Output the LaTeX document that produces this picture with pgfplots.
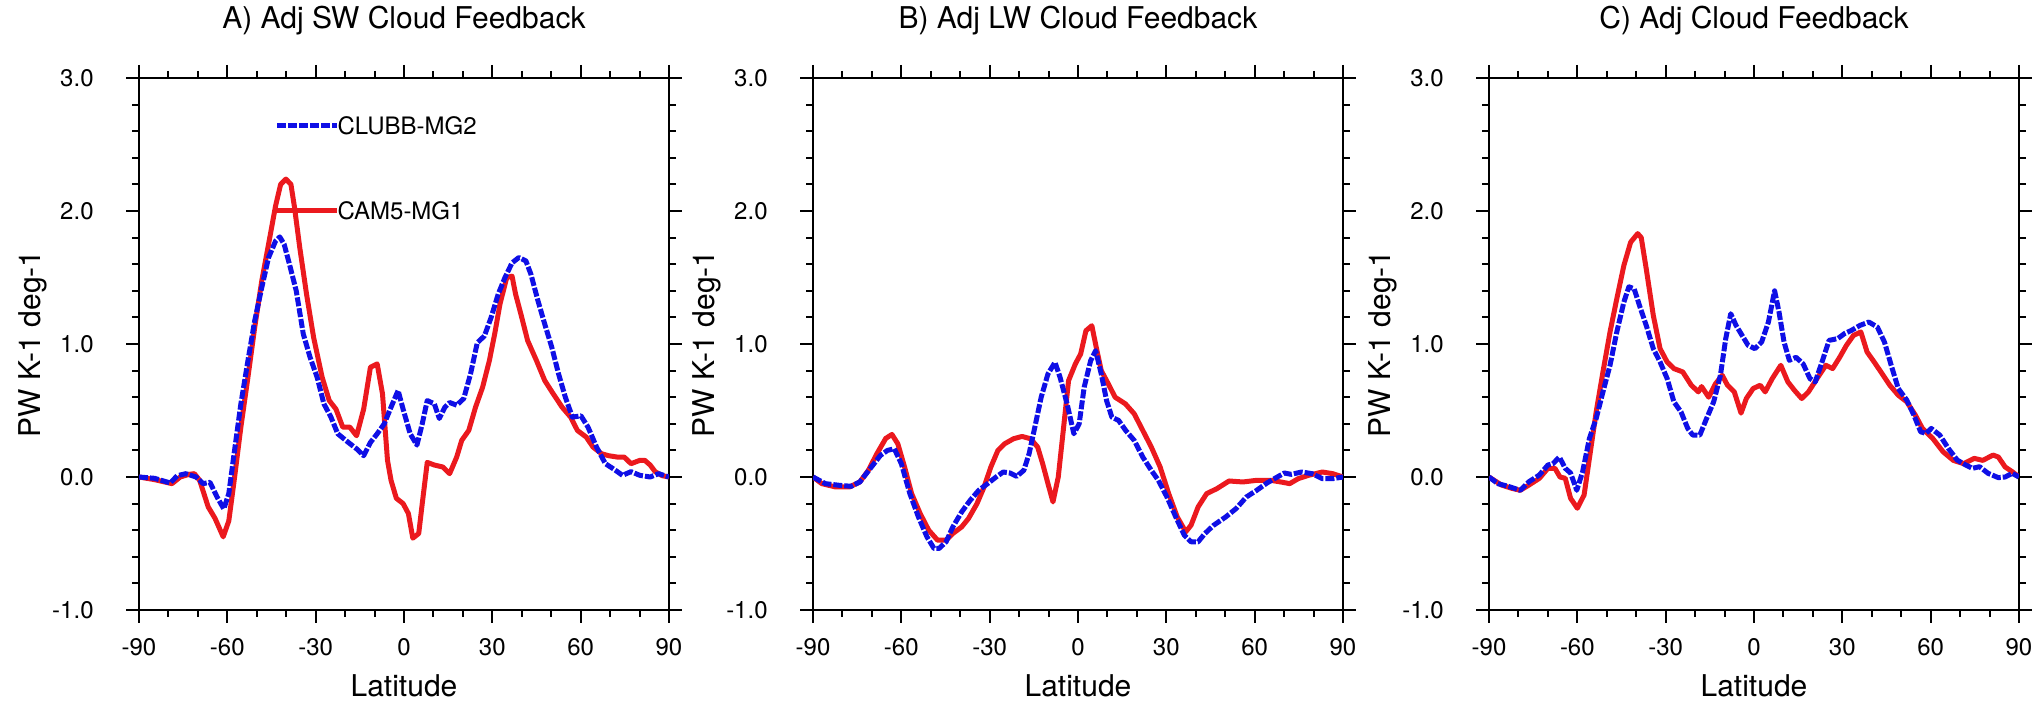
\documentclass[border=0pt]{standalone}
\usepackage{fontspec}
\setmainfont{TeX Gyre Heros}
\usepackage{pgfplots}
\pgfplotsset{compat=1.18}
\definecolor{ncred}{RGB}{235,25,30}
\definecolor{ncblue}{RGB}{15,15,230}
\pgfplotsset{
  panel/.style={
    width=265pt, height=266pt, scale only axis,
    xmin=-90, xmax=90, ymin=-1, ymax=3,
    xtick={-90,-60,-30,0,30,60,90},
    xticklabels={-90,-60,-30,0,30,60,90},
    ytick={-1,0,1,2,3},
    yticklabels={-1.0,0.0,1.0,2.0,3.0},
    minor x tick num=2, minor y tick num=4,
    tick align=outside,
    major tick length=6.5pt, minor tick length=3.5pt,
    every tick/.style={black, line width=1pt},
    axis line style={line width=1.3pt},
    tick label style={font=\fontsize{12}{14}\selectfont},
    xticklabel style={anchor=base, yshift=-16.5pt, inner sep=0pt},
    yticklabel style={anchor=east, xshift=-16pt, inner sep=0pt},
    xlabel={Latitude}, ylabel={PW K-1 deg-1},
    label style={font=\fontsize{15}{18}\selectfont},
    xlabel style={at={(axis description cs:0.5,-0.1617)}, anchor=base, inner sep=0pt},
    ylabel style={at={(axis description cs:-0.185,0.5)}, anchor=base, inner sep=0pt},
    title style={at={(axis description cs:0.5,1.0714)}, anchor=base, inner sep=0pt, font=\fontsize{15}{18}\selectfont},
  },
  redl/.style={color=ncred, line width=2.5pt, no markers, line join=round},
  bluel/.style={color=ncblue, line width=2.5pt, no markers, line join=round, dash pattern=on 4.5pt off 1pt},
}
\begin{document}
\begin{tikzpicture}
\useasboundingbox (0,0) rectangle (1018pt,352.5pt);
% ---------- Panel A ----------
\begin{axis}[panel, at={(69.5pt,47.5pt)}, anchor=south west, title={A) Adj SW Cloud Feedback}]
\addplot[redl] coordinates {(-90,0) (-84.7,-0.02) (-78.8,-0.05) (-76,0.0) (-73,0.02) (-71.2,0.025) (-69.4,-0.025) (-66.5,-0.225) (-64.2,-0.31) (-61.4,-0.45) (-59.5,-0.33) (-57.7,-0.03) (-55.4,0.375) (-53,0.75) (-50.7,1.125) (-48.3,1.475) (-46,1.75) (-43.6,2.04) (-41.9,2.2) (-40.1,2.24) (-38.4,2.2) (-37.2,2.03) (-35.4,1.725) (-33.1,1.375) (-30.7,1.05) (-27.8,0.75) (-25.4,0.575) (-23.1,0.51) (-20.8,0.375) (-18.4,0.375) (-16.1,0.31) (-13.7,0.51) (-11.4,0.825) (-9.1,0.85) (-7.3,0.625) (-5.6,0.125) (-4.4,-0.025) (-2.6,-0.16) (-0.3,-0.2) (1.5,-0.275) (3.0,-0.46) (5.0,-0.425) (6.2,-0.2) (7.9,0.11) (10.3,0.09) (13.2,0.075) (15.5,0.025) (17.9,0.15) (19.6,0.275) (22.0,0.35) (24.3,0.525) (26.7,0.675) (29.0,0.875) (30.8,1.075) (32.6,1.3) (34.9,1.5) (36.7,1.51) (37.9,1.375) (39.7,1.225) (42.0,1.025) (45.0,0.875) (47.8,0.725) (50.7,0.625) (53.7,0.525) (56.6,0.45) (58.9,0.35) (61.9,0.3) (64.2,0.225) (67.1,0.175) (69.5,0.16) (72.4,0.15) (74.8,0.15) (77.1,0.1) (80.1,0.125) (81.8,0.125) (83.6,0.09) (85.3,0.04) (87.7,0.01) (90,0)};
\addplot[bluel] coordinates {(-90,0) (-84.7,-0.01) (-79.4,-0.045) (-77.0,0.01) (-74.1,0.025) (-70.6,0.0) (-68.2,-0.05) (-65.9,-0.04) (-63.5,-0.15) (-61.2,-0.24) (-59.5,-0.125) (-57.7,0.175) (-55.4,0.55) (-53,0.875) (-50.7,1.175) (-48.3,1.425) (-46.0,1.65) (-43.6,1.775) (-42.2,1.805) (-40.7,1.75) (-38.9,1.6) (-36.6,1.4) (-34.2,1.075) (-31.9,0.9) (-29.5,0.75) (-27.2,0.55) (-24.8,0.45) (-22.5,0.325) (-18.9,0.26) (-16.0,0.21) (-13.7,0.16) (-11.4,0.26) (-9.1,0.325) (-6.7,0.4) (-4.4,0.525) (-2.0,0.65) (-0.3,0.51) (2.1,0.325) (4.4,0.24) (6.2,0.4) (7.9,0.575) (10.3,0.55) (12.0,0.44) (13.9,0.525) (15.5,0.56) (17.9,0.54) (20.3,0.59) (22.6,0.775) (24.9,1.01) (27.3,1.06) (29.6,1.2) (32.0,1.375) (34.3,1.5) (36.7,1.61) (39.0,1.65) (41.4,1.625) (43.1,1.525) (45.5,1.325) (47.8,1.15) (50.2,0.975) (52.5,0.775) (54.8,0.6) (57.2,0.45) (60.1,0.46) (62.5,0.375) (65.4,0.225) (68.4,0.1) (71.2,0.06) (74.2,0.0125) (77.1,0.04) (80.1,0.0125) (83.6,0) (86.5,0.025) (90,0)};
\addplot[bluel] coordinates {(-43.1,2.64) (-22.7,2.64)};
\addplot[redl] coordinates {(-43.1,2.0) (-22.7,2.0)};
\node[anchor=west, inner sep=0pt, font=\fontsize{12}{14}\selectfont] at (axis cs:-22.7,2.64) {CLUBB-MG2};
\node[anchor=west, inner sep=0pt, font=\fontsize{12}{14}\selectfont] at (axis cs:-22.7,2.0) {CAM5-MG1};
\end{axis}
% ---------- Panel B ----------
\begin{axis}[panel, at={(406.5pt,47.5pt)}, anchor=south west, title={B) Adj LW Cloud Feedback}]
\addplot[redl] coordinates {(-90,0) (-87,-0.05) (-82.3,-0.075) (-77.6,-0.075) (-74.1,-0.0375) (-71.2,0.05) (-68.3,0.175) (-65.3,0.29) (-63.2,0.32) (-61.2,0.25) (-58.9,0.075) (-56.5,-0.125) (-53.6,-0.275) (-50.7,-0.4) (-47.7,-0.475) (-44.8,-0.475) (-42.5,-0.425) (-39.5,-0.375) (-37.2,-0.3125) (-34.3,-0.2) (-31.9,-0.075) (-29.6,0.075) (-27.2,0.2) (-24.9,0.25) (-21.9,0.2875) (-19.0,0.305) (-16.1,0.2875) (-13.7,0.225) (-12.0,0.1) (-10.2,-0.05) (-8.5,-0.1875) (-6.7,0) (-5.0,0.35) (-3.2,0.725) (-0.9,0.85) (0.9,0.925) (2.7,1.1) (4.7,1.1375) (6.2,0.975) (7.9,0.8) (10.3,0.7) (12.6,0.6) (16.1,0.55) (19.1,0.475) (22.0,0.35) (24.9,0.225) (27.9,0.075) (30.8,-0.125) (33.7,-0.3) (36.6,-0.4125) (38.4,-0.3625) (40.8,-0.225) (43.7,-0.125) (47.2,-0.0875) (51.3,-0.03) (56.0,-0.0375) (60.7,-0.025) (65.4,-0.025) (68.9,-0.0375) (71.9,-0.05) (74.8,-0.0125) (78.3,0.0125) (83.0,0.0375) (86.5,0.025) (90,0)};
\addplot[bluel] coordinates {(-90,0) (-85.8,-0.05) (-81.1,-0.0625) (-77.0,-0.07) (-74.1,-0.0375) (-70.6,0.0625) (-67.1,0.1625) (-64.7,0.2) (-62.4,0.2125) (-60.0,0.1) (-57.1,-0.125) (-54.2,-0.3) (-51.3,-0.45) (-48.9,-0.5375) (-47.2,-0.5375) (-44.8,-0.4875) (-42.5,-0.375) (-39.5,-0.2625) (-36.6,-0.175) (-33.7,-0.1) (-30.7,-0.05) (-27.8,0) (-25.4,0.0375) (-23.1,0.03) (-20.8,0.005) (-18.4,0.05) (-16.6,0.175) (-14.9,0.35) (-12.5,0.6) (-10.2,0.775) (-7.8,0.8625) (-6.1,0.75) (-3.7,0.55) (-1.4,0.325) (0.4,0.4) (2.1,0.675) (4.3,0.875) (6.0,0.95) (7.9,0.775) (9.7,0.575) (11.5,0.45) (13.8,0.425) (16.2,0.35) (19.1,0.275) (22.0,0.15) (24.9,0.05) (27.3,-0.025) (30.2,-0.15) (33.2,-0.3) (36.1,-0.4375) (38.4,-0.4875) (40.8,-0.4875) (43.1,-0.425) (46.1,-0.3625) (50.2,-0.3) (53.7,-0.2375) (57.2,-0.15) (60.7,-0.1) (64.2,-0.045) (67.7,0) (70.1,0.03) (72.4,0.02) (76.0,0.0375) (79.5,0.025) (83.0,-0.0125) (86.5,-0.0125) (90,0)};
\end{axis}
% ---------- Panel C ----------
\begin{axis}[panel, at={(744.5pt,47.5pt)}, anchor=south west, title={C) Adj Cloud Feedback}]
\addplot[redl] coordinates {(-90,0) (-85.8,-0.06) (-82.3,-0.085) (-79.4,-0.1) (-76.4,-0.06) (-72.9,-0.01) (-70.0,0.065) (-67.6,0.065) (-65.9,0) (-64.1,-0.01) (-62.3,-0.16) (-60.0,-0.235) (-57.7,-0.135) (-55.9,0.14) (-53.6,0.49) (-51.3,0.79) (-48.9,1.09) (-46.6,1.34) (-44.2,1.59) (-41.9,1.765) (-39.5,1.83) (-38.3,1.8) (-36.6,1.565) (-34.2,1.215) (-31.9,0.965) (-29.5,0.865) (-27.2,0.815) (-24.2,0.79) (-21.3,0.69) (-18.9,0.64) (-17.8,0.68) (-15.4,0.6) (-13.1,0.7) (-10.8,0.765) (-9.0,0.69) (-6.7,0.64) (-4.4,0.48) (-2.6,0.59) (-0.3,0.665) (2.1,0.69) (3.8,0.64) (6.2,0.74) (9.1,0.84) (11.5,0.715) (13.8,0.65) (16.2,0.59) (18.5,0.64) (21.4,0.74) (24.4,0.84) (26.7,0.815) (29.1,0.9) (31.4,0.99) (33.8,1.065) (36.3,1.09) (38.4,0.94) (40.8,0.865) (43.1,0.79) (46.1,0.69) (49.0,0.615) (51.9,0.565) (54.8,0.465) (57.2,0.365) (60.7,0.29) (64.2,0.19) (67.7,0.125) (71.2,0.1) (74.8,0.14) (77.7,0.125) (81.2,0.165) (83.0,0.15) (85.3,0.075) (87.7,0.04) (90,0)};
\addplot[bluel] coordinates {(-90,0) (-87,-0.05) (-83.5,-0.07) (-79.4,-0.1) (-76.4,-0.035) (-72.9,0.015) (-70.0,0.09) (-68.3,0.1) (-66.1,0.15) (-64.1,0.065) (-62.3,0.03) (-60.2,-0.1) (-58.2,0.04) (-55.9,0.29) (-53.6,0.44) (-51.3,0.64) (-48.9,0.84) (-46.6,1.09) (-44.2,1.315) (-42.5,1.43) (-40.7,1.415) (-38.9,1.29) (-36.6,1.14) (-34.2,0.965) (-31.9,0.865) (-29.5,0.74) (-27.2,0.565) (-24.8,0.49) (-22.5,0.365) (-20.8,0.315) (-18.4,0.315) (-16.1,0.44) (-13.7,0.565) (-11.4,0.765) (-9.6,1.04) (-7.9,1.2275) (-6.1,1.14) (-4.4,1.0775) (-2.0,0.99) (0.3,0.965) (2.6,1.015) (4.9,1.165) (7.0,1.4) (8.5,1.24) (10.2,1.015) (12.0,0.8775) (14.3,0.9) (16.7,0.85) (19.0,0.74) (20.8,0.715) (23.1,0.865) (25.5,1.0275) (28.4,1.04) (30.7,1.0775) (33.1,1.1025) (36.0,1.14) (39.0,1.165) (41.9,1.1275) (44.3,1.015) (46.6,0.84) (49.0,0.665) (51.9,0.5775) (54.3,0.465) (56.6,0.34) (58.4,0.3275) (60.2,0.365) (63.1,0.315) (66.0,0.215) (69.0,0.1275) (71.9,0.09) (74.2,0.065) (76.6,0.0775) (79.5,0.0275) (83.0,-0.005) (85.3,0) (87.7,0.0275) (90,0)};
\end{axis}
\end{tikzpicture}
\end{document}
